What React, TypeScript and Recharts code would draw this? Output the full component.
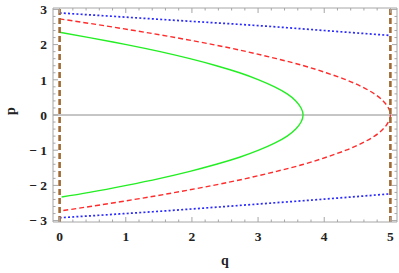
import { LineChart, Line, XAxis, YAxis, ReferenceLine, Label } from "recharts";

// green orbit (solid)
const greenP = [2.35, 2.2, 2.0, 1.8, 1.6, 1.4, 1.2, 1.0, 0.8, 0.6, 0.4, 0.2, 0, -0.2, -0.4, -0.6, -0.8, -1.0, -1.2, -1.4, -1.6, -1.8, -2.0, -2.2, -2.33];
const greenQ = [0, 0.45, 1.01, 1.52, 1.97, 2.37, 2.72, 3.01, 3.25, 3.44, 3.57, 3.65, 3.68, 3.65, 3.57, 3.44, 3.25, 3.01, 2.72, 2.37, 1.97, 1.52, 1.01, 0.45, 0.03];

// red orbit (dashed), touches q = 5
const redP = [2.73, 2.6, 2.4, 2.2, 2.0, 1.8, 1.6, 1.4, 1.2, 1.0, 0.8, 0.6, 0.4, 0.2, 0, -0.2, -0.4, -0.6, -0.8, -1.0, -1.2, -1.4, -1.6, -1.8, -2.0, -2.2, -2.4, -2.6, -2.73];
const redQ = [0, 0.46, 1.13, 1.75, 2.32, 2.83, 3.28, 3.69, 4.03, 4.33, 4.57, 4.76, 4.89, 4.97, 5, 4.97, 4.89, 4.76, 4.57, 4.33, 4.03, 3.69, 3.28, 2.83, 2.32, 1.75, 1.13, 0.46, 0];

// blue (dotted), upper and lower branches
const blueQ = [0, 1, 2, 3, 4, 5];
const blueTopP = [2.9, 2.78, 2.66, 2.54, 2.4, 2.26];
const blueBottomP = [-2.92, -2.8, -2.67, -2.53, -2.39, -2.24];

// walls
const walls = [0, 5];

const xMajor = [0, 1, 2, 3, 4, 5];
const yMajor = [-3, -2, -1, 0, 1, 2, 3];

const zip = (qs: number[], ps: number[]) => qs.map((q, i) => ({ q, p: ps[i] }));

const minorOf = (major: number[]) => {
  const out: number[] = [];
  major.forEach((m, i) => {
    out.push(m);
    if (i < major.length - 1) for (let k = 1; k < 5; k++) out.push(+(m + k * 0.2).toFixed(1));
  });
  return out;
};
const xTicks = minorOf(xMajor);
const yTicks = minorOf(yMajor);

const FRAME = "#a6a6a6";
const FONT = "'Liberation Serif', 'Times New Roman', serif";
const isMajor = (v: number) => Math.abs(v - Math.round(v)) < 1e-6;
const fmt = (v: number) => (v < 0 ? `\u2212 ${Math.abs(v)}` : `${v}`);

const BottomTick = ({ x, y, payload }: any) => {
  const v = payload.value;
  const major = isMajor(v);
  return (
    <g>
      <line x1={x} x2={x} y1={y} y2={y - (major ? 5 : 2.5)} stroke={FRAME} />
      {major && (
        <text x={x} y={y + 18.5} textAnchor="middle" fontFamily={FONT} fontWeight="bold" fontSize={13.5} fill="#222">
          {fmt(v)}
        </text>
      )}
    </g>
  );
};

const TopTick = ({ x, y, payload }: any) => {
  const major = isMajor(payload.value);
  return <line x1={x} x2={x} y1={y} y2={y + (major ? 5 : 2.5)} stroke={FRAME} />;
};

const LeftTick = ({ x, y, payload }: any) => {
  const v = payload.value;
  const major = isMajor(v);
  return (
    <g>
      <line x1={x} x2={x + (major ? 5 : 2.5)} y1={y} y2={y} stroke={FRAME} />
      {major && (
        <text x={x - 6} y={y + 4.8} textAnchor="end" fontFamily={FONT} fontWeight="bold" fontSize={13.5} fill="#222">
          {fmt(v)}
        </text>
      )}
    </g>
  );
};

const RightTick = ({ x, y, payload }: any) => {
  const major = isMajor(payload.value);
  return <line x1={x} x2={x - (major ? 5 : 2.5)} y1={y} y2={y} stroke={FRAME} />;
};

const App = () => {
  return (
    <div style={{ position: "absolute", left: 0, top: 0, background: "#fff" }}>
      <LineChart width={399} height={273} margin={{ top: 0, right: 0, left: 0, bottom: 0 }}>
        <XAxis
          dataKey="q"
          type="number"
          domain={[-0.1, 5.1]}
          ticks={xTicks}
          interval={0}
          allowDataOverflow
          height={51}
          tickSize={0}
          tickMargin={0}
          tickLine={false}
          stroke={FRAME}
          tick={<BottomTick />}
        >
          <Label value="q" position="insideBottom" offset={8} style={{ fontFamily: FONT, fontWeight: "bold", fontSize: 14, fill: "#222" }} />
        </XAxis>
        <XAxis
          xAxisId="top"
          dataKey="q"
          type="number"
          orientation="top"
          domain={[-0.1, 5.1]}
          ticks={xTicks}
          interval={0}
          allowDataOverflow
          height={8}
          tickSize={0}
          tickMargin={0}
          tickLine={false}
          stroke={FRAME}
          tick={<TopTick />}
        />
        <YAxis
          dataKey="p"
          type="number"
          domain={[-3.04, 3.04]}
          ticks={yTicks}
          interval={0}
          allowDataOverflow
          width={53}
          tickSize={0}
          tickMargin={0}
          tickLine={false}
          stroke={FRAME}
          tick={<LeftTick />}
        >
          <Label value="p" angle={-90} position="insideLeft" offset={10} style={{ fontFamily: FONT, fontWeight: "bold", fontSize: 14, fill: "#222" }} />
        </YAxis>
        <YAxis
          yAxisId="right"
          orientation="right"
          type="number"
          domain={[-3.04, 3.04]}
          ticks={yTicks}
          interval={0}
          allowDataOverflow
          width={2}
          tickSize={0}
          tickMargin={0}
          tickLine={false}
          stroke={FRAME}
          tick={<RightTick />}
        />
        <ReferenceLine y={0} stroke="#8c8c8c" strokeWidth={1} />
        <Line data={zip(greenQ, greenP)} dataKey="p" type="natural" stroke="#22ee22" strokeWidth={1.4} dot={false} isAnimationActive={false} />
        <Line data={zip(redQ, redP)} dataKey="p" type="natural" stroke="#ff2a2a" strokeWidth={1.4} strokeDasharray="5 3" dot={false} isAnimationActive={false} />
        <Line data={zip(blueQ, blueTopP)} dataKey="p" type="natural" stroke="#2a2aff" strokeWidth={1.7} strokeDasharray="2 2.2" dot={false} isAnimationActive={false} />
        <Line data={zip(blueQ, blueBottomP)} dataKey="p" type="natural" stroke="#2a2aff" strokeWidth={1.7} strokeDasharray="2 2.2" dot={false} isAnimationActive={false} />
        {walls.map((w) => (
          <ReferenceLine key={w} x={w} stroke="#a06a35" strokeWidth={2.6} strokeDasharray="6 3" />
        ))}
      </LineChart>
    </div>
  );
};

export default App;
